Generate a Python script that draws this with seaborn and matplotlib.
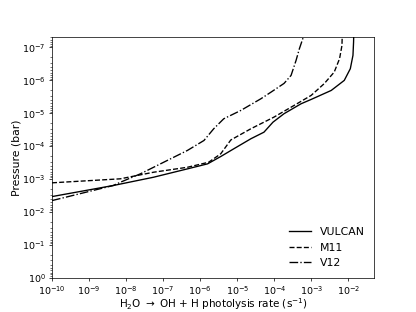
import matplotlib
matplotlib.use('Agg')
import matplotlib.pyplot as plt
import matplotlib.ticker as ticker
import numpy as np
import pandas as pd
import seaborn as sns

# photolysis rate (s^-1) vs pressure (bar)
vulcan_rate = [1e-10, 4.5e-9, 5.46e-8, 4.56e-7, 1.58e-6, 3.57e-6, 8.04e-6, 2.32e-5,
               5.23e-5, 9.16e-5, 1.82e-4, 5.26e-4, 9.82e-4, 3.42e-3, 7.69e-3,
               1.12e-2, 1.32e-2, 1.37e-2, 1.38e-2]
vulcan_p = [3.43e-3, 1.58e-3, 8.87e-4, 4.92e-4, 3.47e-4, 2.08e-4, 1.21e-4, 6.0e-5,
            3.79e-5, 1.88e-5, 1.04e-5, 5.18e-6, 3.83e-6, 2.04e-6, 1.01e-6,
            4.46e-7, 1.75e-7, 7e-8, 5e-8]

m11_rate = [1e-10, 6.97e-9, 5.46e-8, 4.56e-7, 1.69e-6, 3.57e-6, 6.67e-6, 2.32e-5,
            9.75e-5, 3.4e-4, 9.82e-4, 2.21e-3, 4.12e-3, 5.74e-3, 6.67e-3, 6.75e-3]
m11_p = [1.31e-3, 9.9e-4, 6.25e-4, 4.4e-4, 3.1e-4, 1.72e-4, 6.54e-5, 2.98e-5,
         1.32e-5, 5.83e-6, 2.89e-6, 1.27e-6, 5.65e-7, 2.21e-7, 8.7e-8, 5e-8]

v12_rate = [1e-10, 4.5e-9, 6.97e-9, 2.43e-8, 1.28e-7, 4.5e-7, 1.26e-6, 2.31e-6,
            4.31e-6, 1.24e-5, 4.33e-5, 8.1e-5, 1.82e-4, 2.82e-4, 3.85e-4, 4.73e-4, 6.0e-4]
v12_p = [4.54e-3, 1.58e-3, 1.26e-3, 6.98e-4, 2.75e-4, 1.36e-4, 6.77e-5, 2.98e-5,
         1.48e-5, 8.28e-6, 3.65e-6, 2.3e-6, 1.25e-6, 7.13e-7, 2.49e-7, 1.1e-7, 5e-8]

series = [('VULCAN', vulcan_rate, vulcan_p, '-'),
          ('M11', m11_rate, m11_p, '--'),
          ('V12', v12_rate, v12_p, '-.')]

fig, ax = plt.subplots(figsize=(6.4, 4.8), dpi=65)

for name, rate, p, ls in series:
    df = pd.DataFrame({'rate': rate, 'p': p})
    sns.lineplot(data=df, x='rate', y='p', ax=ax, color='k', linestyle=ls,
                 label=name, estimator=None, sort=False, lw=1.5)

ax.set_xscale('log')
ax.set_yscale('log')
ax.set_xlim(1e-10, 5e-2)
ax.set_ylim(1e0, 5e-8)
ax.xaxis.set_major_locator(ticker.LogLocator(base=10, numticks=20))
ax.xaxis.set_minor_locator(ticker.NullLocator())
ax.yaxis.set_major_locator(ticker.LogLocator(base=10, numticks=20))
ax.yaxis.set_minor_locator(ticker.LogLocator(base=10, subs=np.arange(2, 10), numticks=20))
ax.yaxis.set_minor_formatter(ticker.NullFormatter())
ax.tick_params(labelsize=10.5)

ax.set_xlabel(r'H$_2$O $\rightarrow$ OH + H photolysis rate (s$^{-1}$)', fontsize=11.5, labelpad=0)
ax.set_ylabel('Pressure (bar)', fontsize=12, labelpad=1)
ax.legend(loc='lower right', frameon=False, fontsize=12)

fig.savefig('out.png', dpi=65)
